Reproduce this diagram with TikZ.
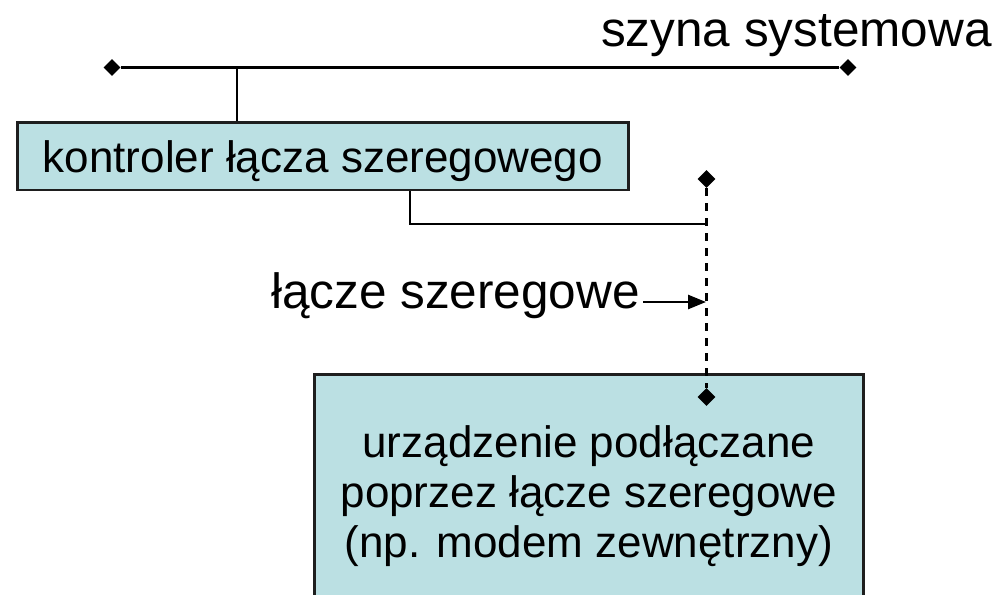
\documentclass[tikz,border=0pt]{standalone}
\usepackage{fontspec}
\setmainfont{Liberation Sans}
\usetikzlibrary{shapes.geometric,arrows.meta}
\definecolor{boxfill}{RGB}{187,224,227}
\definecolor{boxline}{RGB}{30,30,30}
\begin{document}
\begin{tikzpicture}[x=1pt,y=-1pt,
  panel/.style={draw=boxline, line width=2.4pt, fill=boxfill, inner sep=0pt},
  busend/.style={diamond, fill=black, inner sep=0pt, minimum width=#1, minimum height=#1},
  wire/.style={line width=2.6pt, black},
  linkline/.style={line width=2.6pt, dash pattern=on 8pt off 7pt},
  boxtext/.style={font=\fontsize{44}{50}\selectfont},
  labeltext/.style={font=\fontsize{49.5}{58}\selectfont, inner sep=0pt}
]
\path[use as bounding box] (0,0) rectangle (1008,594);
\begin{scope}
\clip (0,0) rectangle (1008,594);

% system bus
\node[busend=17] (busL) at (112,67.5) {};
\node[busend=17] (busR) at (848,67.5) {};
\draw[wire] (busL) -- (busR);
\node[labeltext, anchor=base west] (busname) at (601,47) {szyna systemowa};

% serial link controller
\node[panel, boxtext, minimum width=611, minimum height=67.7,
      text height=31.6pt, text depth=0pt] (ctrl) at (322.8,156.2)
      {kontroler łącza szeregowego};
\coordinate (tap) at (237,67.5);
\draw[wire] (tap) -- (tap |- ctrl.north);

% attached device
\node[panel, minimum width=549, minimum height=300, anchor=north] (dev) at (588.8,373.3) {};
\node[boxtext, align=center] (devtext) at (588.8,496)
  {urządzenie podłączane\\poprzez łącze szeregowe\\(np. modem zewnętrzny)};

% serial link
\node[busend=18] (linkTop) at (706.5,179) {};
\node[busend=18] (linkBot) at (706.5,397) {};
\draw[linkline] (linkTop) -- (linkBot);
\coordinate (join) at (706.5,224);
\draw[wire] ([xshift=87.2pt]ctrl.south) |- (join);

% link label with arrow
\node[labeltext, anchor=base east] (lnk) at (640,308) {łącze szeregowe};
\coordinate (hit) at (706,302);
\draw[wire, -{Triangle[length=18pt,width=14pt]}] ([xshift=3pt,yshift=6pt]lnk.base east) -- (hit);
\end{scope}
\end{tikzpicture}
\end{document}
